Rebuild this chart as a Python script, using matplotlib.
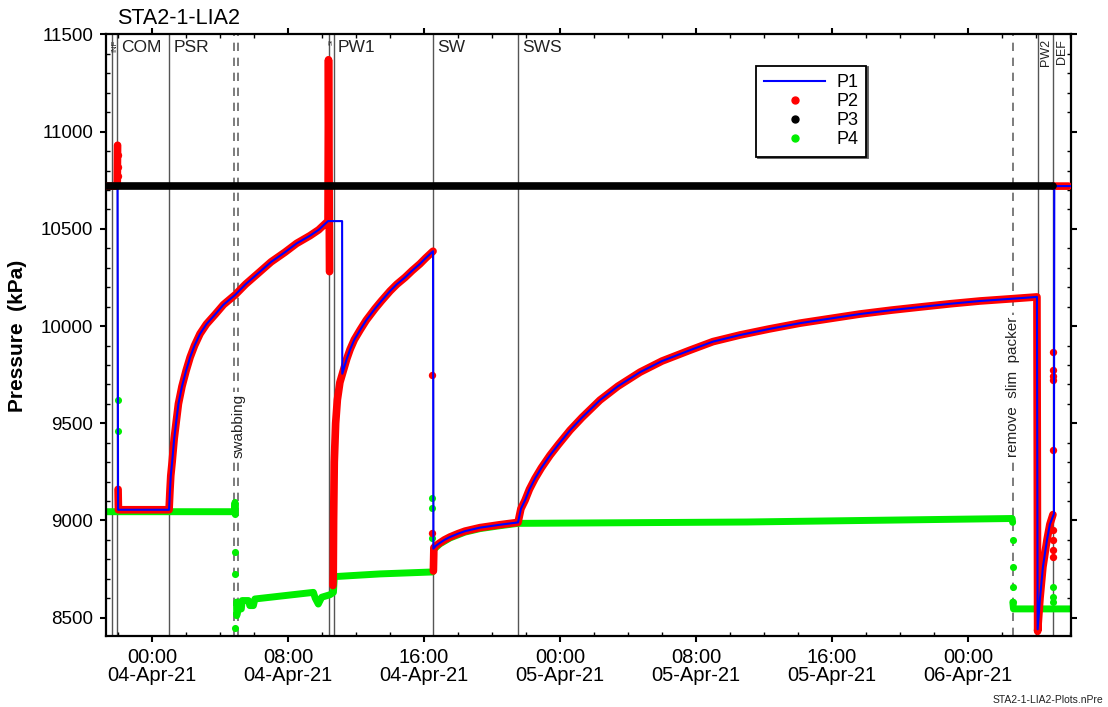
import matplotlib
matplotlib.use('Agg')
import matplotlib.pyplot as plt
from matplotlib.ticker import MultipleLocator, FixedLocator
from matplotlib.lines import Line2D
import numpy as np

plt.rcParams['font.family'] = ['Liberation Sans', 'DejaVu Sans']

nan = np.nan
# time axis: hours relative to 04-Apr-21 00:00
tick_hours = [0, 8, 16, 24, 32, 40, 48]
tick_labels = ["00:00\n04-Apr-21", "08:00\n04-Apr-21", "16:00\n04-Apr-21",
               "00:00\n05-Apr-21", "08:00\n05-Apr-21", "16:00\n05-Apr-21",
               "00:00\n06-Apr-21"]

# P1 (line)
p1_t = [-2.74, -2.03, -2.0, 1.0, 1.05, 1.1, 1.18, 1.3, 1.41, 1.55, 1.76, 2.0, 2.24, 2.5,
        2.82, 3.2, 3.71, 4.2, 4.88, 5.5, 6.35, 7.0, 7.82, 8.5, 9.29, 9.8, 10.35, 11.18,
        11.19, 11.45, 11.65, 11.9, 12.24, 12.6, 13.12, 13.5, 14.0, 14.4, 14.88, 15.3,
        15.76, 16.1, 16.53, 16.55, 16.7, 16.94, 17.2, 17.53, 18.0, 18.41, 19.29, 20.47,
        21.53, 21.7, 21.94, 22.2, 22.53, 22.9, 23.41, 23.9, 24.59, 25.3, 26.35, 27.4,
        28.71, 30.0, 31.65, 33.0, 34.59, 36.3, 38.12, 40.0, 41.65, 43.5, 45.18, 47.0,
        48.71, 50.5, 52.06, 52.1, 52.24, 52.41, 52.65, 52.82, 53.06, 53.08, 54.1]
p1_v = [10720, 10720, 9055, 9055, 9150, 9230, 9300, 9420, 9500, 9600, 9690, 9770, 9840,
        9900, 9960, 10010, 10060, 10110, 10160, 10215, 10280, 10330, 10380, 10425, 10465,
        10495, 10540, 10540, 9755, 9830, 9880, 9930, 9980, 10030, 10090, 10130, 10180,
        10215, 10250, 10285, 10320, 10350, 10385, 8855, 8870, 8885, 8900, 8915, 8932,
        8945, 8963, 8978, 8990, 9060, 9103, 9160, 9216, 9270, 9335, 9390, 9464, 9530,
        9619, 9690, 9763, 9820, 9876, 9920, 9954, 9985, 10015, 10040, 10062, 10082,
        10098, 10115, 10129, 10140, 10150, 8440, 8600, 8760, 8900, 8980, 9035, 10720,
        10720]

# P2 (dense points, drawn as a thick band)
p2_t = [-2.74, -2.05, -2.03, nan, -2.0, -1.98, 1.0, 1.05, 1.1, 1.18, 1.3, 1.41, 1.55, 1.76,
        2.0, 2.24, 2.5, 2.82, 3.2, 3.71, 4.2, 4.88, 5.5, 6.35, 7.0, 7.82, 8.5, 9.29, 9.8,
        10.35, 10.38, 10.44, nan, 10.64, 10.66, 10.68, 10.72, 10.8, 10.9, 11.05, 11.25,
        11.45, 11.65, 11.9, 12.24, 12.6, 13.12, 13.5, 14.0, 14.4, 14.88, 15.3, 15.76, 16.1,
        16.53, nan, 16.55, 16.58, 16.7, 16.94, 17.2, 17.53, 18.0, 18.41, 19.29, 20.47,
        21.53, 21.7, 21.94, 22.2, 22.53, 22.9, 23.41, 23.9, 24.59, 25.3, 26.35, 27.4,
        28.71, 30.0, 31.65, 33.0, 34.59, 36.3, 38.12, 40.0, 41.65, 43.5, 45.18, 47.0,
        48.71, 50.5, 52.06, 52.1, 52.24, 52.41, 52.65, 52.82, 53.0, nan, 53.03, 53.92]
p2_v = [10720, 10720, 10930, nan, 9160, 9055, 9055, 9150, 9230, 9300, 9420, 9500, 9600, 9690,
        9770, 9840, 9900, 9960, 10010, 10060, 10110, 10160, 10215, 10280, 10330, 10380,
        10425, 10465, 10495, 10540, 11370, 10280, nan, 8665, 8730, 9000, 9300, 9500, 9620,
        9710, 9770, 9830, 9880, 9930, 9980, 10030, 10090, 10130, 10180, 10215, 10250,
        10285, 10320, 10350, 10385, nan, 8740, 8860, 8870, 8885, 8900, 8915, 8932, 8945,
        8963, 8978, 8990, 9060, 9103, 9160, 9216, 9270, 9335, 9390, 9464, 9530, 9619,
        9690, 9763, 9820, 9876, 9920, 9954, 9985, 10015, 10040, 10062, 10082, 10098,
        10115, 10129, 10140, 10150, 8430, 8600, 8760, 8900, 8980, 9030, nan, 10720, 10720]
p2_dot_t = [-2.03, -2.03, -2.03, 16.47, 16.47, 53.02, 53.02, 53.02, 53.02, 53.02,
            53.02, 53.02, 53.02, 53.02]
p2_dot_v = [10880, 10820, 10770, 9750, 8933, 9867, 9773, 9745, 9722, 9361,
            8950, 8900, 8850, 8810]

# P3
p3_t = [-2.74, 53.0]
p3_v = [10718, 10718]

# P4
p4_t = [-2.74, 4.85, 4.88, 4.9, nan, 4.97, 4.98, 5.05, 5.25, 5.3, 5.67, 5.75, 5.96, 6.05,
        9.49, 9.6, 9.78, 9.98, 10.47, 10.67, 10.72, 13.41, 16.5, nan, 16.56, 16.94, 17.53,
        18.41, 19.29, 20.47, 21.53, 35.0, 50.6, 50.63, nan, 50.64, 50.68, 54.1]
p4_v = [9045, 9045, 9093, 9030, nan, 8580, 8510, 8540, 8545, 8588, 8588, 8562, 8562, 8596,
        8630, 8600, 8570, 8605, 8618, 8630, 8711, 8725, 8735, nan, 8850, 8880, 8910,
        8940, 8958, 8973, 8985, 8992, 9010, 8990, nan, 8580, 8545, 8545]
p4_dot_t = [-2.0, -2.0, -2.0, 4.9, 4.9, 4.9, 16.45, 16.45, 16.45, 50.63, 50.63, 50.63,
            50.63, 53.02, 53.02, 53.02]
p4_dot_v = [9620, 9460, 9085, 8840, 8722, 8448, 9113, 9062, 8912, 8897, 8759, 8656,
            8578, 8656, 8604, 8578]

# events
solid_events_t = [-2.37, -2.04, 1.0, 10.38, 10.7, 16.53, 21.53, 52.14, 53.02]
dashed_events_t = [4.82, 5.06, 50.63]
top_labels = ["COM", "PSR", "PW1", "SW", "SWS"]
top_labels_t = [-2.04, 1.0, 10.7, 16.53, 21.53]
rot_labels = ["INF", "SI", "PW2", "DEF"]
rot_labels_t = [-2.2, 10.53, 52.6, 53.52]
rot_labels_size = [5.5, 4.5, 9, 9]

fig = plt.figure(figsize=(11.08, 7.07), dpi=100)
ax = fig.add_axes([0.09522, 0.09972, 0.8718, 0.8515])

ax.set_xlim(-2.74, 54.09)
ax.set_ylim(8403, 11500)

for t in solid_events_t:
    ax.axvline(t, color='#555555', lw=1.0, zorder=1.5)
for t in dashed_events_t:
    ax.axvline(t, color='#666666', lw=1.2, dashes=(5, 4), zorder=1.5)

kw = dict(solid_capstyle='round', solid_joinstyle='round')
ax.plot(p4_t, p4_v, color='#00ee00', lw=5, zorder=2, **kw)
ax.scatter(p4_dot_t, p4_dot_v, s=26, color='#00ee00', zorder=2, linewidths=0)
ax.plot(p2_t, p2_v, color='#ff0000', lw=5.5, zorder=3, **kw)
ax.scatter(p2_dot_t, p2_dot_v, s=28, color='#ff0000', zorder=3, linewidths=0)
ax.plot(p1_t, p1_v, color='#0000ff', lw=1.5, zorder=4)
ax.plot(p3_t, p3_v, color='black', lw=5.5, zorder=5, **kw)

# ticks
ax.xaxis.set_major_locator(FixedLocator(tick_hours))
ax.set_xticklabels(tick_labels, fontsize=14.5, linespacing=0.95)
ax.xaxis.set_minor_locator(MultipleLocator(2))
ax.yaxis.set_major_locator(MultipleLocator(500))
ax.yaxis.set_minor_locator(MultipleLocator(100))
ax.tick_params(axis='y', labelsize=13.5, pad=5)
ax.tick_params(axis='x', pad=4)
ax.tick_params(which='major', direction='out', length=4, width=1.5,
               top=True, right=True)
ax.tick_params(which='minor', direction='in', length=3, width=1,
               top=True, right=True)
for s in ax.spines.values():
    s.set_linewidth(1.6)

# event labels
for lab, t in zip(top_labels, top_labels_t):
    ax.annotate(lab, xy=(t, 1), xycoords=('data', 'axes fraction'),
                xytext=(3, -4), textcoords='offset points', ha='left', va='top',
                fontsize=12.5, color='#222222', zorder=10)
for lab, t, fs in zip(rot_labels, rot_labels_t, rot_labels_size):
    ax.annotate(lab, xy=(t, 1), xycoords=('data', 'axes fraction'),
                xytext=(0, -3.5), textcoords='offset points', ha='center', va='top',
                rotation=90, fontsize=fs, color='#222222', zorder=10)
ax.text(5.06, 0.35, "swabbing", transform=ax.get_xaxis_transform(), rotation=90,
        ha='center', va='center', fontsize=11, color='#222222', zorder=10,
        bbox=dict(facecolor='white', edgecolor='none', pad=1.5))
ax.text(50.63, 0.414, "remove  slim  packer", transform=ax.get_xaxis_transform(),
        rotation=90, ha='center', va='center', fontsize=11, color='#222222', zorder=10,
        bbox=dict(facecolor='white', edgecolor='none', pad=1.5))

# legend
handles = [Line2D([], [], color='#0000ff', lw=1.5),
           Line2D([], [], color='#ff0000', marker='o', ls='none', markersize=5),
           Line2D([], [], color='black', marker='o', ls='none', markersize=5),
           Line2D([], [], color='#00ee00', marker='o', ls='none', markersize=5)]
leg = ax.legend(handles, ["P1", "P2", "P3", "P4"], loc='upper left',
                bbox_to_anchor=(0.664, 0.963), fontsize=13, handlelength=3.4,
                handletextpad=0.6, labelspacing=0.12, borderpad=0.45,
                fancybox=False, edgecolor='black', framealpha=1,
                shadow={'ox': 1.2, 'oy': -1.2, 'color': '0.35', 'alpha': 1})
leg.get_frame().set_linewidth(1.3)
leg.set_zorder(20)

fig.text(117 / 1108, 1 - 19 / 707, "STA2-1-LIA2", fontsize=15.5, ha='left', va='center')
fig.text(18 / 1108, 1 - 336 / 707, "Pressure  (kPa)", fontsize=15, fontweight='bold',
         rotation=90, ha='center', va='center')
fig.text(1103 / 1108, 1 - 700 / 707, "STA2-1-LIA2-Plots.nPre", fontsize=7.5,
         ha='right', va='center', color='#222222')

fig.savefig('out.png', dpi=100)
